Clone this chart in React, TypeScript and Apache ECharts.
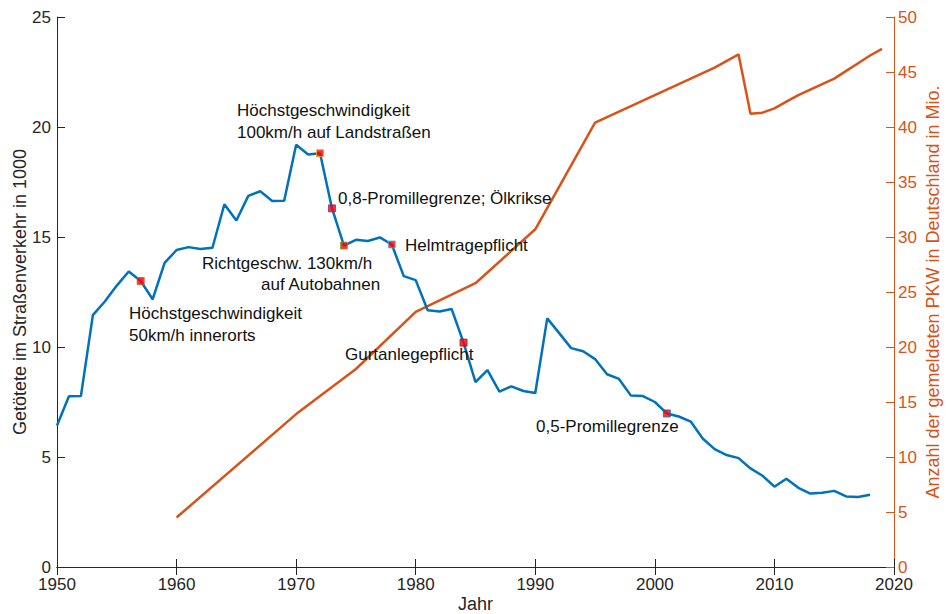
import React, { useEffect, useRef } from "react";
import * as echarts from "echarts";

// Getötete im Straßenverkehr (in 1000), 1950–2018
const deathStartYear = 1950;
const deaths = [
  6.43, 7.76, 7.77, 11.45, 12.07, 12.79, 13.43, 13.0, 12.17, 13.82,
  14.41, 14.54, 14.45, 14.51, 16.49, 15.75, 16.87, 17.08, 16.64, 16.65,
  19.19, 18.75, 18.81, 16.3, 14.61, 14.87, 14.82, 14.98, 14.66, 13.22,
  13.04, 11.67, 11.61, 11.73, 10.2, 8.4, 8.95, 7.97, 8.21, 8.0,
  7.91, 11.3, 10.63, 9.95, 9.81, 9.45, 8.76, 8.55, 7.79, 7.77,
  7.5, 6.98, 6.84, 6.61, 5.84, 5.36, 5.09, 4.95, 4.48, 4.15,
  3.65, 4.01, 3.6, 3.34, 3.38, 3.46, 3.21, 3.18, 3.28,
];

// Anzahl PKW (Mio.)
const pkwYears = [1960, 1970, 1975, 1980, 1985, 1990, 1995, 2000, 2005, 2007, 2008, 2009, 2010, 2011, 2012, 2013, 2014, 2015, 2016, 2017, 2018, 2019];
const pkwValues = [4.5, 13.9, 18.0, 23.2, 25.8, 30.7, 40.4, 42.9, 45.4, 46.6, 41.2, 41.3, 41.7, 42.3, 42.9, 43.4, 43.9, 44.4, 45.1, 45.8, 46.5, 47.1];

// Markierte Ereignisse
const eventYears = [1957, 1972, 1973, 1974, 1978, 1984, 2001];
const eventValues = [13.0, 18.81, 16.3, 14.61, 14.66, 10.2, 6.98];
const eventEdges = ["#D95319", "#EDB120", "#7E2F8E", "#77AC30", "#4DBEEE", "#A2142F", "#0072BD"];

const xTicks = [1950, 1960, 1970, 1980, 1990, 2000, 2010, 2020];

const FONT = '"Liberation Sans", Arial, Helvetica, sans-serif';
const BLUE = "#0072BD";
const ORANGE = "#D95319";
const AXIS = "#262626";

const annotations: { x: number; y: number; text: string }[] = [
  { x: 129, y: 313, text: "Höchstgeschwindigkeit" },
  { x: 129, y: 335, text: "50km/h innerorts" },
  { x: 237, y: 110, text: "Höchstgeschwindigkeit" },
  { x: 237, y: 132, text: "100km/h auf Landstraßen" },
  { x: 338, y: 198, text: "0,8-Promillegrenze; Ölkrikse" },
  { x: 202, y: 263, text: "Richtgeschw. 130km/h" },
  { x: 261, y: 284, text: "auf Autobahnen" },
  { x: 405, y: 245, text: "Helmtragepflicht" },
  { x: 345, y: 354, text: "Gurtanlegepflicht" },
  { x: 536, y: 426, text: "0,5-Promillegrenze" },
];

export default function App() {
  const ref = useRef<HTMLDivElement>(null);
  useEffect(() => {
    const chart = echarts.init(ref.current!, null, { renderer: "svg" });
    const deathData = deaths.map((v, i) => [deathStartYear + i, v]);
    const pkwData = pkwYears.map((y, i) => [y, pkwValues[i]]);
    const eventData = eventYears.map((y, i) => ({
      value: [y, eventValues[i]],
      itemStyle: { color: "#FF0000", borderColor: eventEdges[i], borderWidth: 1 },
    }));
    const labelStyle = { fontFamily: FONT, fontSize: 17 };
    const nameStyle = { fontFamily: FONT, fontSize: 18 };
    chart.setOption({
      animation: false,
      backgroundColor: "#fff",
      grid: { left: 57, right: 52, top: 17, bottom: 47, containLabel: false, outerBoundsMode: "none" },
      xAxis: [
        {
          type: "value",
          min: 1950,
          max: 2020,
          interval: 10,
          name: "Jahr",
          nameLocation: "middle",
          nameGap: 28,
          nameMoveOverlap: false,
          nameTextStyle: { ...nameStyle, color: AXIS },
          axisLine: { show: true, lineStyle: { color: AXIS, width: 1 } },
          axisTick: { show: true, inside: true, length: 8, lineStyle: { color: AXIS } },
          axisLabel: { ...labelStyle, color: AXIS, margin: 9, showMinLabel: true, showMaxLabel: true,
            formatter: (v: number) => (xTicks.includes(v) ? String(v) : "") },
          splitLine: { show: false },
        },
        {
          type: "value",
          position: "top",
          min: 1950,
          max: 2020,
          interval: 10,
          axisLine: { show: true, lineStyle: { color: AXIS, width: 1 } },
          axisTick: { show: true, inside: true, length: 8, lineStyle: { color: AXIS } },
          axisLabel: { show: false },
          splitLine: { show: false },
        },
      ],
      yAxis: [
        {
          type: "value",
          min: 0,
          max: 25,
          interval: 5,
          position: "left",
          name: "Getötete im Straßenverkehr in 1000",
          nameLocation: "middle",
          nameGap: 28,
          nameMoveOverlap: false,
          nameTextStyle: { ...nameStyle, color: AXIS },
          axisLine: { show: true, lineStyle: { color: AXIS, width: 1 } },
          axisTick: { show: true, inside: true, length: 8, lineStyle: { color: AXIS } },
          axisLabel: { ...labelStyle, color: AXIS, margin: 6 },
          splitLine: { show: false },
        },
        {
          type: "value",
          min: 0,
          max: 50,
          interval: 5,
          position: "right",
          name: "Anzahl der gemeldeten PKW in Deutschland in Mio.",
          nameLocation: "middle",
          nameGap: 30,
          nameRotate: 90,
          nameMoveOverlap: false,
          nameTextStyle: { ...nameStyle, color: ORANGE },
          axisLine: { show: true, lineStyle: { color: ORANGE, width: 1 } },
          axisTick: { show: true, inside: true, length: 8, lineStyle: { color: ORANGE } },
          axisLabel: { ...labelStyle, color: ORANGE, margin: 4 },
          splitLine: { show: false },
        },
      ],
      series: [
        {
          type: "line",
          name: "Getötete",
          xAxisIndex: 0,
          yAxisIndex: 0,
          data: deathData,
          showSymbol: false,
          symbol: "none",
          lineStyle: { color: BLUE, width: 2.5 },
          z: 3,
        },
        {
          type: "line",
          name: "PKW",
          xAxisIndex: 0,
          yAxisIndex: 1,
          data: pkwData,
          showSymbol: false,
          symbol: "none",
          lineStyle: { color: ORANGE, width: 2.5 },
          z: 2,
        },
        {
          type: "scatter",
          name: "Ereignisse",
          xAxisIndex: 0,
          yAxisIndex: 0,
          symbol: "rect",
          symbolSize: 7,
          data: eventData,
          z: 4,
        },
      ],
      graphic: annotations.map((a) => ({
        type: "text",
        x: a.x,
        y: a.y,
        z: 10,
        style: {
          text: a.text,
          fontFamily: FONT,
          fontSize: 17,
          fill: "#111",
          align: "left",
          verticalAlign: "middle",
        },
      })),
    });
    return () => chart.dispose();
  }, []);
  return (
    <div
      ref={ref}
      style={{ position: "fixed", left: 0, top: 0, width: 946, height: 614, background: "#fff" }}
    />
  );
}
